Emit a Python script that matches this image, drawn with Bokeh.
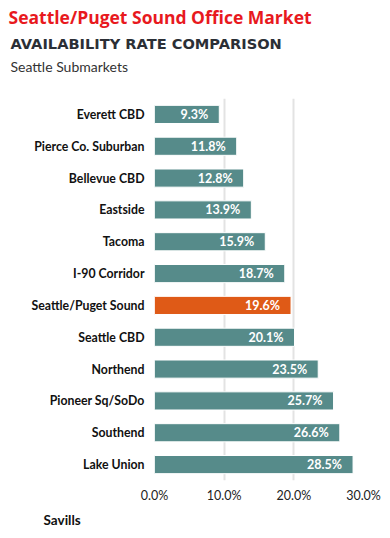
from bokeh.plotting import figure
from bokeh.models import ColumnDataSource, Title, PrintfTickFormatter, FixedTicker, FactorRange
from bokeh.embed import file_html
from bokeh.resources import INLINE
from bokeh.core.properties import value

markets = ["Everett CBD", "Pierce Co. Suburban", "Bellevue CBD", "Eastside", "Tacoma",
           "I-90 Corridor", "Seattle/Puget Sound", "Seattle CBD", "Northend",
           "Pioneer Sq/SoDo", "Southend", "Lake Union"]
rates = [9.3, 11.8, 12.8, 13.9, 15.9, 18.7, 19.6, 20.1, 23.5, 25.7, 26.6, 28.5]
highlight = "Seattle/Puget Sound"
x_ticks = [0, 10, 20, 30]

TEAL = "#568b8a"
ORANGE = "#df5a17"

colors = [ORANGE if m == highlight else TEAL for m in markets]
labels = ["%.1f%%" % r for r in rates]
src = ColumnDataSource(dict(m=markets, r=rates, c=colors, lab=labels))

p = figure(width=390, height=536, output_backend="svg", toolbar_location=None,
           y_range=FactorRange(*list(reversed(markets))), x_range=(0, 30),
           min_border_left=154, min_border_right=27, min_border_top=95, min_border_bottom=56)
p.outline_line_color = None
p.background_fill_color = "white"
p.border_fill_color = "white"

p.hbar(y="m", right="r", left=0, height=0.57, fill_color="c", line_color="white",
       line_width=1, source=src)
p.text(x="r", y="m", text="lab", source=src, text_align="right", text_baseline="middle",
       x_offset=-11, text_color="white", text_font=value("Lato"), text_font_style="bold",
       text_font_size="12.5px")

p.xgrid.ticker = FixedTicker(ticks=x_ticks)
p.xgrid.grid_line_color = "#e3e3e3"
p.xgrid.grid_line_width = 2
p.ygrid.grid_line_color = None

p.xaxis.ticker = FixedTicker(ticks=x_ticks)
p.xaxis.formatter = PrintfTickFormatter(format="%.1f%%")
p.xaxis.axis_line_color = None
p.xaxis.major_tick_line_color = None
p.xaxis.minor_tick_line_color = None
p.xaxis.major_tick_out = 0
p.xaxis.minor_tick_out = 0
p.xaxis.major_label_text_font = "Lato"
p.xaxis.major_label_text_font_size = "12.5px"
p.xaxis.major_label_text_color = "#222222"
p.xaxis.major_label_standoff = 7

p.yaxis.axis_line_color = None
p.yaxis.major_tick_line_color = None
p.yaxis.major_tick_out = 0
p.yaxis.minor_tick_out = 0
p.yaxis.major_label_text_font = "Lato"
p.yaxis.major_label_text_font_style = "bold"
p.yaxis.major_label_text_font_size = "12.3px"
p.yaxis.major_label_text_color = "#111111"
p.yaxis.major_label_standoff = 10

def ttl(text, where, size, color, offset, style="bold", font="Lato", standoff=4):
    p.add_layout(Title(text=text, align="left", offset=offset, text_font=font,
                       text_font_size=size, text_color=color, text_font_style=style,
                       standoff=standoff), where)

ttl(" ", "above", "13px", "#ffffff", 0, style="normal", standoff=4)
ttl("Seattle Submarkets", "above", "14px", "#333333", -144, style="normal", standoff=4)
ttl("AVAILABILITY RATE COMPARISON", "above", "14.6px", "#2b2f36", -144, font="DejaVu Sans")
ttl("Seattle/Puget Sound Office Market", "above", "17.5px", "#e8191e", -146, font="Open Sans")
ttl("Savills", "below", "13.5px", "#111111", -111, standoff=8)

open("out.html", "w").write(file_html(p, INLINE))
